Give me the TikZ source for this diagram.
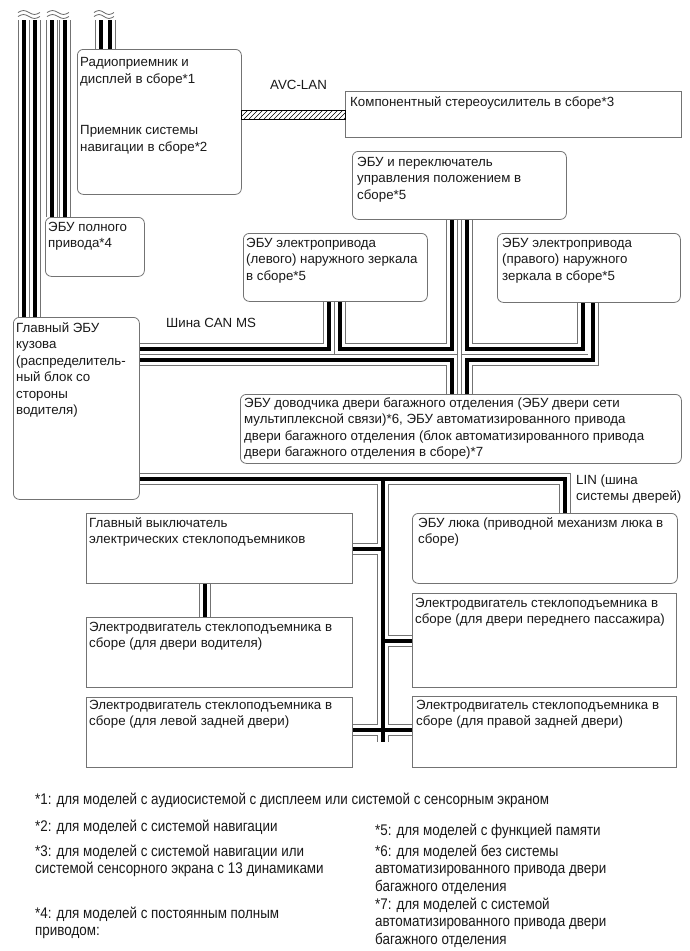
\documentclass[tikz,border=0pt]{standalone}
\usepackage{fontspec}
\setmainfont{Liberation Sans}
\newfontfamily\narrowfont[FakeStretch=0.87]{Liberation Sans}
\newcommand\boxfont{\fontsize{13.3}{16.5}\selectfont}
\newcommand\notefont{\narrowfont\fontsize{15.4}{17.3}\selectfont}
\pgfdeclarelayer{bg}
\pgfdeclarelayer{wires}
\pgfsetlayers{bg,wires,main}
\newcommand\drawwires[1]{%
 \draw[#1] (24,20) -- (ecu.north -| 24,0);
 \draw[#1] (35,20) -- (ecu.north -| 35,0);
 \draw[#1] (52,20) -- (awd.north -| 52,0);
 \draw[#1] (65,20) -- (awd.north -| 65,0);
 \draw[#1] (101,20) -- (radio.north -| 101,0);
 \draw[#1] (110,20) -- (radio.north -| 110,0);
 \draw[#1] (ecu.east |- 0,349) -- (329,349) -- (lmir.south -| 329,0);
 \draw[#1] (lmir.south -| 340,0) -- (340,349) -- (452,349) -- (pos.south -| 452,0);
 \draw[#1] (pos.south -| 467,0) -- (467,349) -- (583,349) -- (rmir.south -| 583,0);
 \draw[#1] (ecu.east |- 0,360) -- (452,360) -- (tail.north -| 452,0);
 \draw[#1] (tail.north -| 467,0) -- (467,360) -- (593,360) -- (rmir.south -| 593,0);
 \draw[#1] (ecu.east |- 0,479) -- (565,479) -- (sun.north -| 565,0);
 \draw[#1] (383,479) -- (383,742);
 \draw[#1] (pws.east |- 0,549) -- (383,549);
 \draw[#1] (383,641) -- (pas.west |- 0,641);
 \draw[#1] (lrr.east |- 0,730) -- (rrr.west |- 0,730);
 \draw[#1] (pws.south -| 205,0) -- (drv.north -| 205,0);
}
\begin{document}
\begin{tikzpicture}[x=1pt,y=-1pt,
  box/.style={draw=black!55, line width=0.8pt, fill=white, inner sep=0pt, anchor=north west},
  rbox/.style={box, rounded corners=6pt},
  txt/.style={anchor=north west, inner sep=0pt, align=left, font=\boxfont, text=black!90},
  note/.style={anchor=north west, inner sep=0pt, align=left, font=\notefont, text=black!90},
  halo/.style={draw=black!55, line width=11.4pt},
  gapw/.style={draw=white, line width=9.6pt},
  core/.style={draw=black, line width=3.3pt},
  wave/.style={draw=black!60, line width=0.8pt},
]
\useasboundingbox (0,0) rectangle (690,951);
\begin{pgfonlayer}{bg}
\fill[white] (0,0) rectangle (690,951);
\end{pgfonlayer}

% boxes
\node[rbox, minimum width=164pt, minimum height=145pt] (radio) at (77,49) {};
\node[box,  minimum width=336pt, minimum height=46pt]  (amp)   at (345,91) {};
\node[rbox, minimum width=214pt, minimum height=68pt]  (pos)   at (352,151) {};
\node[rbox, minimum width=99pt,  minimum height=59pt]  (awd)   at (45,217) {};
\node[rbox, minimum width=184pt, minimum height=68pt]  (lmir)  at (243,233) {};
\node[rbox, minimum width=183pt, minimum height=69pt]  (rmir)  at (497,233) {};
\node[rbox, minimum width=126pt, minimum height=182pt] (ecu)   at (13,317) {};
\node[rbox, minimum width=441pt, minimum height=69pt]  (tail)  at (240,394) {};
\node[box,  minimum width=266pt, minimum height=70pt]  (pws)   at (86,513) {};
\node[box,  minimum width=266pt, minimum height=70pt]  (drv)   at (86,617) {};
\node[box,  minimum width=266pt, minimum height=70pt]  (lrr)   at (86,697) {};
\node[rbox, minimum width=265pt, minimum height=70pt]  (sun)   at (412,513) {};
\node[box,  minimum width=264pt, minimum height=94pt]  (pas)   at (412,593) {};
\node[box,  minimum width=264pt, minimum height=71pt]  (rrr)   at (412,696) {};

% wires
\begin{pgfonlayer}{wires}
\drawwires{halo}
\drawwires{gapw}
\drawwires{core}
\end{pgfonlayer}

% wave marks
\foreach \cx/\hw in {29/11, 58/11, 104/10}{
  \draw[wave] (\cx-\hw,12.5) sin (\cx-\hw/2,10.5) cos (\cx,12.5) sin (\cx+\hw/2,14.5) cos (\cx+\hw,12.5);
  \draw[wave] (\cx-\hw,16.5) sin (\cx-\hw/2,14.5) cos (\cx,16.5) sin (\cx+\hw/2,18.5) cos (\cx+\hw,16.5);
}

% AVC-LAN hatched link
\begin{scope}
\clip (radio.east |- 0,110) rectangle (amp.west |- 0,119);
\foreach \i in {0,5,...,120} \draw[line width=0.6pt] (234+\i,119) -- (243+\i,110);
\end{scope}
\draw[line width=0.7pt] (radio.east |- 0,110) rectangle (amp.west |- 0,119);

% texts
\node[txt] (tRadio1) at (80,56.5) {\rule{0pt}{10pt}Радиоприемник и\\дисплей в сборе*1};
\node[txt] (tRadio2) at (80,124.5) {\rule{0pt}{10pt}Приемник системы\\навигации в сборе*2};
\node[txt] (tAvc) at (270,79) {\rule{0pt}{10pt}AVC-LAN};
\node[txt] (tAmp) at (350,96) {\rule{0pt}{10pt}Компонентный стереоусилитель в сборе*3};
\node[txt] (tPos) at (357,156) {\rule{0pt}{10pt}ЭБУ и переключатель\\управления положением в\\сборе*5};
\node[txt] (tAwd) at (48,221) {\rule{0pt}{10pt}ЭБУ полного\\привода*4};
\node[txt] (tLmir) at (246,237) {\rule{0pt}{10pt}ЭБУ электропривода\\(левого) наружного зеркала\\в сборе*5};
\node[txt] (tRmir) at (502,237) {\rule{0pt}{10pt}ЭБУ электропривода\\(правого) наружного\\зеркала в сборе*5};
\node[txt] (tEcu) at (16,322) {\rule{0pt}{10pt}Главный ЭБУ\\кузова\\(распределитель-\\ный блок со\\стороны\\водителя)};
\node[txt] (tCan) at (166,317) {\rule{0pt}{10pt}Шина CAN MS};
\node[txt] (tTail) at (244,397) {\rule{0pt}{10pt}ЭБУ доводчика двери багажного отделения (ЭБУ двери сети\\мультиплексной связи)*6, ЭБУ автоматизированного привода\\двери багажного отделения (блок автоматизированного привода\\двери багажного отделения в сборе)*7};
\node[txt] (tLin) at (576,474) {\rule{0pt}{10pt}LIN (шина\\системы дверей)};
\node[txt] (tPws) at (89,517) {\rule{0pt}{10pt}Главный выключатель\\электрических стеклоподъемников};
\node[txt] (tDrv) at (89,621) {\rule{0pt}{10pt}Электродвигатель стеклоподъемника в\\сборе (для двери водителя)};
\node[txt] (tLrr) at (89,699) {\rule{0pt}{10pt}Электродвигатель стеклоподъемника в\\сборе (для левой задней двери)};
\node[txt] (tSun) at (418,517) {\rule{0pt}{10pt}ЭБУ люка (приводной механизм люка в\\сборе)};
\node[txt] (tPas) at (415,597) {\rule{0pt}{10pt}Электродвигатель стеклоподъемника в\\сборе (для двери переднего пассажира)};
\node[txt] (tRrr) at (416,699) {\rule{0pt}{10pt}Электродвигатель стеклоподъемника в\\сборе (для правой задней двери)};

% footnotes
\node[note] (n1) at (35,793) {\rule{0pt}{11pt}*1: для моделей с аудиосистемой с дисплеем или системой с сенсорным экраном};
\node[note] (n2) at (35,820) {\rule{0pt}{11pt}*2: для моделей с системой навигации};
\node[note] (n3) at (35,845) {\rule{0pt}{11pt}*3: для моделей с системой навигации или\\системой сенсорного экрана с 13 динамиками};
\node[note] (n4) at (35,907) {\rule{0pt}{11pt}*4: для моделей с постоянным полным\\приводом:};
\node[note] (n5) at (375,824) {\rule{0pt}{11pt}*5: для моделей с функцией памяти};
\node[note] (n6) at (375,845) {\rule{0pt}{11pt}*6: для моделей без системы\\автоматизированного привода двери\\багажного отделения};
\node[note] (n7) at (375,898) {\rule{0pt}{11pt}*7: для моделей с системой\\автоматизированного привода двери\\багажного отделения};
\end{tikzpicture}
\end{document}
